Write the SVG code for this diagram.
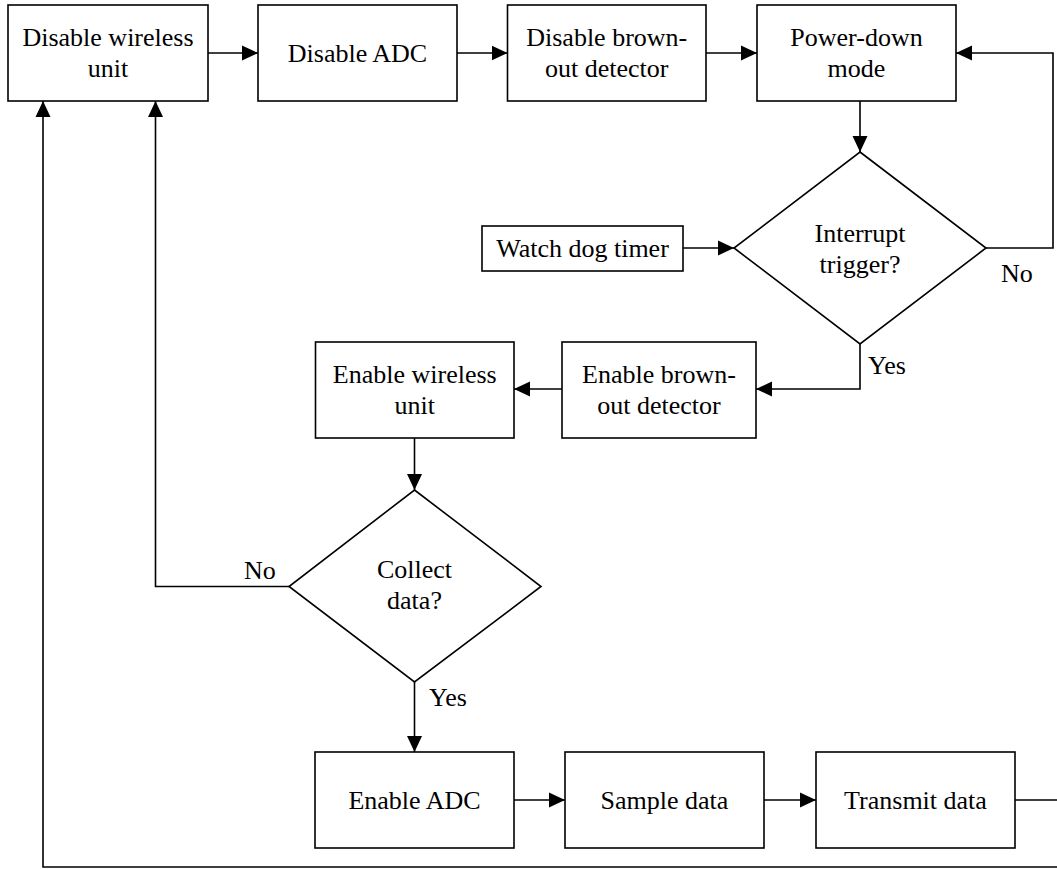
<svg xmlns="http://www.w3.org/2000/svg" width="1057" height="869" viewBox="0 0 1057 869">
  <style>
    .box { fill: #ffffff; stroke: #000000; stroke-width: 1.6; }
    .lbl { font-family: 'Liberation Serif', 'DejaVu Serif', 'Times New Roman', serif; font-size: 26px; fill: #000000; text-anchor: middle; }
    .tag { font-family: 'Liberation Serif', 'DejaVu Serif', 'Times New Roman', serif; font-size: 26px; fill: #000000; }
    .wire { fill: none; stroke: #000000; stroke-width: 1.6; }
    .wire.arrow { marker-end: url(#head); }
  </style>
  <defs>
    <marker id="head" markerUnits="userSpaceOnUse" markerWidth="16" markerHeight="16" viewBox="0 0 16 16" refX="16" refY="8" orient="auto">
      <path d="M0,0.5 L16,8 L0,15.5 Z" fill="#000000"/>
    </marker>
  </defs>
  <rect width="1057" height="869" fill="#ffffff"/>

  <!-- connectors -->
  <g id="connectors">
    <path class="wire arrow" d="M208,53 H258"/>
    <path class="wire arrow" d="M457,53 H507.5"/>
    <path class="wire arrow" d="M706,53 H757"/>
    <path class="wire arrow" d="M860,101 V152"/>
    <path class="wire arrow" d="M683,248 H734"/>
    <path class="wire arrow" d="M986,248 H1053 V53 H956"/>
    <path class="wire arrow" d="M860,344 V389 H756"/>
    <path class="wire arrow" d="M562,389 H514"/>
    <path class="wire arrow" d="M414.5,438 V490"/>
    <path class="wire arrow" d="M289,586.5 H155.5 V101"/>
    <path class="wire arrow" d="M414.5,682 V752"/>
    <path class="wire arrow" d="M514,800 H565"/>
    <path class="wire arrow" d="M764,800 H816"/>
    <path class="wire arrow" d="M1015,800 H1062 V867 H43 V101"/>
    <text class="tag" x="1001" y="282" font-family="Liberation Serif, serif">No</text>
    <text class="tag" x="868" y="374" font-family="Liberation Serif, serif">Yes</text>
    <text class="tag" x="244" y="579" font-family="Liberation Serif, serif">No</text>
    <text class="tag" x="429" y="706" font-family="Liberation Serif, serif">Yes</text>
  </g>

  <g id="disable-wireless">
    <rect class="box" x="8" y="5" width="200" height="96"/>
    <text class="lbl" x="108" y="46">Disable wireless</text>
    <text class="lbl" x="108" y="77">unit</text>
  </g>
  <g id="disable-adc">
    <rect class="box" x="258" y="5" width="199" height="96"/>
    <text class="lbl" x="357.5" y="62">Disable ADC</text>
  </g>
  <g id="disable-bod">
    <rect class="box" x="507.5" y="5" width="198.5" height="96"/>
    <text class="lbl" x="606.75" y="46">Disable brown-</text>
    <text class="lbl" x="606.75" y="77">out detector</text>
  </g>
  <g id="power-down">
    <rect class="box" x="757" y="5" width="199" height="96"/>
    <text class="lbl" x="856.5" y="46">Power-down</text>
    <text class="lbl" x="856.5" y="77">mode</text>
  </g>
  <g id="watchdog">
    <rect class="box" x="482" y="226" width="201" height="45"/>
    <text class="lbl" x="582.5" y="257">Watch dog timer</text>
  </g>
  <g id="interrupt-trigger">
    <polygon class="box" points="860,152 986,248 860,344 734,248"/>
    <text class="lbl" x="860" y="242">Interrupt</text>
    <text class="lbl" x="860" y="273">trigger?</text>
  </g>
  <g id="enable-bod">
    <rect class="box" x="562" y="342" width="194" height="96"/>
    <text class="lbl" x="659" y="383">Enable brown-</text>
    <text class="lbl" x="659" y="414">out detector</text>
  </g>
  <g id="enable-wireless">
    <rect class="box" x="315.5" y="342" width="198.5" height="96"/>
    <text class="lbl" x="414.75" y="383">Enable wireless</text>
    <text class="lbl" x="414.75" y="414">unit</text>
  </g>
  <g id="collect-data">
    <polygon class="box" points="414.5,490 541,586.5 414.5,682 289,586.5"/>
    <text class="lbl" x="414.5" y="578">Collect</text>
    <text class="lbl" x="414.5" y="609">data?</text>
  </g>
  <g id="enable-adc">
    <rect class="box" x="315" y="752" width="199" height="96"/>
    <text class="lbl" x="414.5" y="809">Enable ADC</text>
  </g>
  <g id="sample-data">
    <rect class="box" x="565" y="752" width="199" height="96"/>
    <text class="lbl" x="664.5" y="809">Sample data</text>
  </g>
  <g id="transmit-data">
    <rect class="box" x="816" y="752" width="199" height="96"/>
    <text class="lbl" x="915.5" y="809">Transmit data</text>
  </g>
</svg>
